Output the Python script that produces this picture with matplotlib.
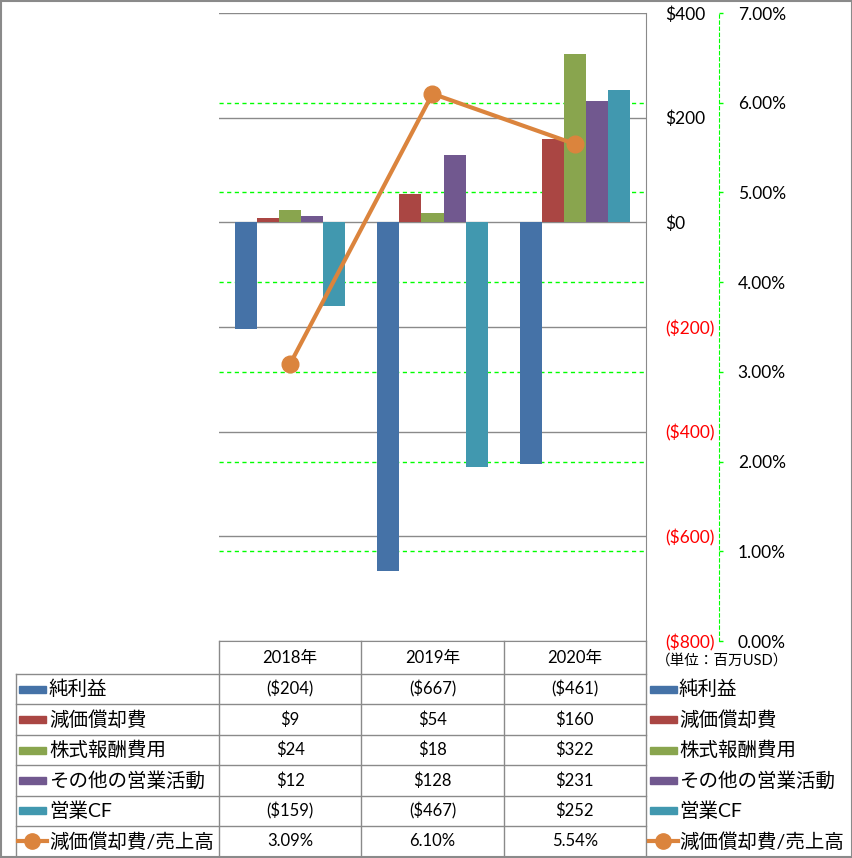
import numpy as np
import matplotlib
matplotlib.use("Agg")
import matplotlib.pyplot as plt
import matplotlib.transforms as mtransforms
from matplotlib.lines import Line2D
from matplotlib.patches import Rectangle

plt.rcParams['font.family'] = ['Lato', 'Noto Sans CJK JP']

# データ (単位: 百万USD)
years = ["2018年", "2019年", "2020年"]
series_names = ["純利益", "減価償却費", "株式報酬費用", "その他の営業活動", "営業CF"]
net_income = [-204, -667, -461]
depreciation = [9, 54, 160]
stock_comp = [24, 18, 322]
other_ops = [12, 128, 231]
operating_cf = [-159, -467, 252]
dep_ratio = [3.09, 6.10, 5.54]  # %
ratio_name = "減価償却費/売上高"
unit_note = "（単位：百万USD）"
usd_ticks = [-800, -600, -400, -200, 0, 200, 400]
pct_ticks = [0, 1, 2, 3, 4, 5, 6, 7]

colors = ["#4572A7", "#AA4643", "#89A54E", "#71588F", "#4198AF"]
line_color = "#DB843D"
gray = "#8A8A8A"
green = "#00FF00"

W, H = 853, 858
fig = plt.figure(figsize=(W / 100, H / 100), dpi=100)


def box(x0, y0, x1, y1):
    # пиксели -> координаты фигуры
    return [x0 / W, 1 - y1 / H, (x1 - x0) / W, (y1 - y0) / H]


def usd(v):
    return f"${v:,.0f}" if v >= 0 else f"(${-v:,.0f})"


PL, PT, PR, PB = 219, 13, 646, 641
ax = fig.add_axes(box(PL, PT, PR, PB))
ax2 = ax.twinx()

bar_series = [net_income, depreciation, stock_comp, other_ops, operating_cf]
x = np.arange(len(years))
bw = 0.155
n = len(bar_series)
for i, (vals, c) in enumerate(zip(bar_series, colors)):
    ax.bar(x + (i - (n - 1) / 2) * bw, vals, bw, color=c, zorder=2)

ax.set_xlim(-0.5, len(years) - 0.5)
ax.set_ylim(usd_ticks[0], usd_ticks[-1])
ax.yaxis.tick_right()
ax.set_yticks(usd_ticks)
ax.set_yticklabels([usd(v) for v in usd_ticks])
for t, v in zip(ax.yaxis.get_major_ticks(), usd_ticks):
    t.label2.set_color("#FF0000" if v < 0 else "black")
ax.tick_params(axis='y', length=0, pad=13.5, labelsize=12.5)
ax.tick_params(axis='x', bottom=False, labelbottom=False)
ax.grid(axis='y', color=gray, lw=1)
ax.set_axisbelow(True)
ax.spines['left'].set_visible(False)
ax.spines['top'].set_visible(False)
ax.spines['right'].set_color(gray)
ax.spines['bottom'].set_color(gray)

# 右側の%軸
ax2.set_ylim(pct_ticks[0], pct_ticks[-1])
ax2.set_yticks(pct_ticks)
ax2.set_yticklabels([f"{p:.2f}%" for p in pct_ticks])
ax2.spines['right'].set_position(('axes', (719 - PL) / (PR - PL)))
ax2.spines['right'].set_color(green)
ax2.spines['right'].set_linestyle((0, (3, 2.5)))
for s in ('left', 'top', 'bottom'):
    ax2.spines[s].set_visible(False)
ax2.tick_params(axis='y', length=3, width=1, color=green, pad=10.5,
                labelsize=12.5, labelcolor='black')
ax2.plot(x, dep_ratio, color=line_color, lw=3, marker='o', ms=12, zorder=3)

# зелёная сетка по % оси, под столбцами
trans = mtransforms.blended_transform_factory(ax.transAxes, ax2.transData)
for p in pct_ticks[1:-1]:
    ax.add_line(Line2D([0, 1], [p, p], transform=trans, color=green, lw=1,
                       ls=(0, (3, 2.5)), zorder=0.6))
ax.set_xlim(-0.5, len(years) - 0.5)
ax.set_ylim(usd_ticks[0], usd_ticks[-1])

# таблица данных + легенда (в пикселях)
tab = fig.add_axes([0, 0, 1, 1])
tab.set_xlim(0, W)
tab.set_ylim(H, 0)
tab.axis('off')
tab.patch.set_visible(False)

head_bottom = 674
row_h = 30.4
col_w = (PR - PL) / len(years)
left_x = 16
rows = series_names + [ratio_name]
table_vals = [[usd(v) for v in s] for s in bar_series] + [[f"{p:.2f}%" for p in dep_ratio]]

for k in range(len(rows)):
    y = head_bottom + k * row_h
    tab.plot([left_x, PR], [y, y], color=gray, lw=1)
tab.plot([left_x, left_x], [head_bottom, H], color=gray, lw=1)
for j in range(len(years) + 1):
    xx = PL + j * col_w
    tab.plot([xx, xx], [PB, H], color=gray, lw=1)

for j, yr in enumerate(years):
    tab.text(PL + (j + 0.5) * col_w, (PB + head_bottom) / 2, yr,
             ha='center', va='center', fontsize=12)

for k, name in enumerate(rows):
    yc = head_bottom + (k + 0.5) * row_h
    for j, val in enumerate(table_vals[k]):
        tab.text(PL + (j + 0.5) * col_w, yc, val, ha='center', va='center', fontsize=12)
    for kx, tx in ((19, 49), (650, 679)):
        if k < len(series_names):
            tab.add_patch(Rectangle((kx, yc - 3.5), 27, 7, color=colors[k]))
        else:
            tab.plot([kx - 1, kx + 28], [yc, yc], color=line_color, lw=3)
            tab.plot([kx + 13.5], [yc], marker='o', ms=11, color=line_color)
        tab.text(tx, yc, name, ha='left', va='center', fontsize=14)

tab.text(722, 661, unit_note, ha='center', va='center', fontsize=10.5)

tab.add_patch(Rectangle((0.75, 0.75), W - 1.5, H - 1.5, fill=False,
                        edgecolor=gray, lw=1.5))

fig.savefig("out.png", dpi=100)
